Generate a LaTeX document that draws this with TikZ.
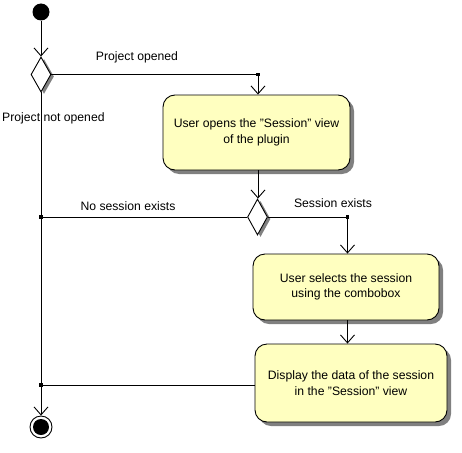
\documentclass[tikz,border=0pt]{standalone}
\usepackage{fontspec}
\setmainfont{Liberation Sans}
\usetikzlibrary{shapes.geometric,arrows.meta,shadows}
\definecolor{actfill}{HTML}{FFFFC0}
\definecolor{shadowgrey}{HTML}{808080}
\newcommand{\dq}{\char34\relax}
\begin{document}
\begin{tikzpicture}[x=1pt,y=-1pt,
  every node/.style={font=\fontsize{12.2}{15.5}\selectfont},
  act/.style={draw, fill=actfill, rounded corners=12pt, line width=0.9pt,
    align=center, inner sep=0pt,
    drop shadow={shadow xshift=4pt, shadow yshift=-4pt, fill=shadowgrey, opacity=1}},
  decision/.style={draw, fill=white, diamond, inner sep=0pt, line width=0.9pt,
    drop shadow={shadow xshift=3pt, shadow yshift=-2pt, fill=shadowgrey, opacity=1}},
  flow/.style={line width=0.9pt, -{Straight Barb[length=8pt,width=14pt,line width=0.9pt]}},
  plain/.style={line width=0.9pt},
  lbl/.style={inner sep=0pt}
]
\useasboundingbox (0,0) rectangle (462,452);

% nodes
\node[circle, fill=black, minimum size=17pt, inner sep=0pt] (init) at (41,12) {};
\node[decision, minimum width=20pt, minimum height=35pt] (d1) at (41,74.5) {};
\node[act, minimum width=187pt, minimum height=75pt] (a1) at (256.5,132.5)
  {User opens the \dq Session\dq\ view\\of the plugin};
\node[decision, minimum width=20pt, minimum height=36pt] (d2) at (257.5,217) {};
\node[act, minimum width=186pt, minimum height=66pt] (a2) at (346,287)
  {User selects the session\\using the combobox};
\node[act, minimum width=192pt, minimum height=78pt] (a3) at (351,383)
  {Display the data of the session\\in the \dq Session\dq\ view};
\node[circle, draw, fill=white, line width=0.9pt, minimum size=22pt, inner sep=0pt] (final) at (41,427) {};
\fill[black] (final) circle (8pt);

% junction coordinates
\coordinate (j1) at (258,74.5);
\coordinate (j2) at (41,217);
\coordinate (j3) at (347.5,217);
\coordinate (j4) at (41,385);

% connectors
\draw[flow] (init) -- (d1.north);
\draw[flow] (d1.east) -- (j1) -- (j1 |- a1.north);
\draw[flow] (d1.south) -- (final.north);
\draw[flow] (a1.south -| j1) -- (j1 |- d2.north);
\draw[plain] (d2.west) -- (j2);
\draw[flow] (d2.east) -- (j3) -- (j3 |- a2.north);
\draw[flow] (a2.south -| j3) -- (j3 |- a3.north);
\draw[plain] (a3.west |- j4) -- (j4);

% junction dots
\foreach \j in {j1,j2,j3,j4} \fill (\j) +(-1.6,-1.6) rectangle +(1.6,1.6);

% labels
\node[lbl] (l1) at (137,57) {Project opened};
\node[lbl, anchor=west] (l2) at (2,118) {Project not opened};
\node[lbl] (l3) at (128,206) {No session exists};
\node[lbl] (l4) at (333,203) {Session exists};
\end{tikzpicture}
\end{document}
